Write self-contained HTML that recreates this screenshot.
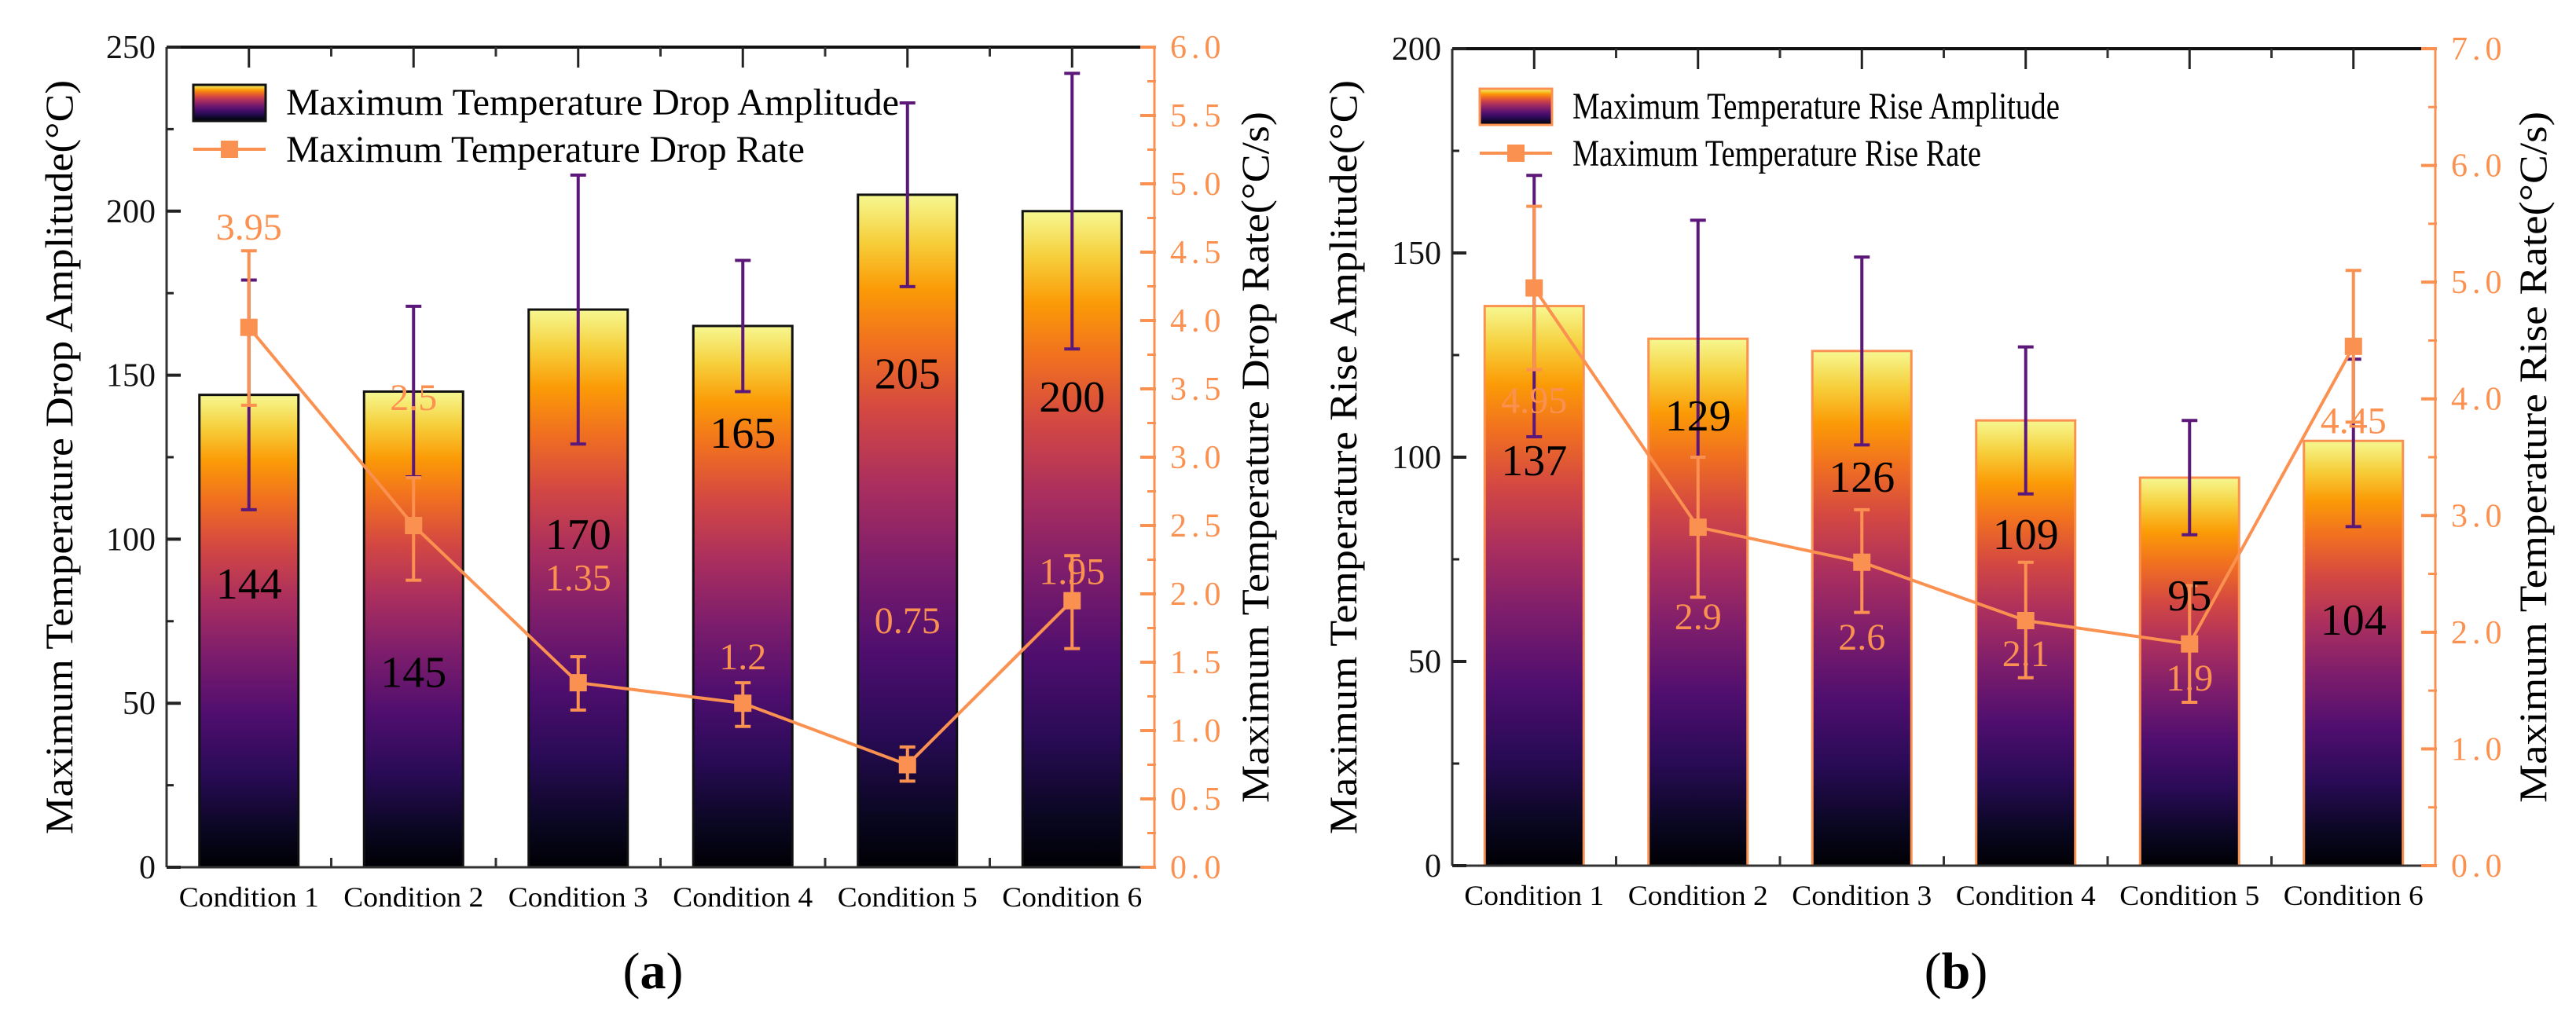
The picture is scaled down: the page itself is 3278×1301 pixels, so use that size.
<!DOCTYPE html>
<html><head><meta charset="utf-8">
<style>
html,body{margin:0;padding:0;background:#fff;}
svg{display:block;font-family:"Liberation Serif",serif;}
svg text{font-family:"Liberation Serif",serif;}
</style></head>
<body>
<svg id="fig" width="3278" height="1301" viewBox="0 0 3278 1301" xmlns="http://www.w3.org/2000/svg" font-family="Liberation Serif, serif">
<defs>
<linearGradient id="inferno" x1="0" y1="1" x2="0" y2="0">
<stop offset="0" stop-color="#000004"/>
<stop offset="0.08" stop-color="#0a0722"/>
<stop offset="0.2" stop-color="#2a0b57"/>
<stop offset="0.32" stop-color="#4e0e6e"/>
<stop offset="0.45" stop-color="#7d1d6c"/>
<stop offset="0.57" stop-color="#ab2f5e"/>
<stop offset="0.68" stop-color="#d44842"/>
<stop offset="0.78" stop-color="#f1711f"/>
<stop offset="0.86" stop-color="#fb9b06"/>
<stop offset="0.93" stop-color="#f6cf3b"/>
<stop offset="1" stop-color="#f6f891"/>
</linearGradient>
</defs>
</svg>
<script>
// ---- Chart (a) data ----
const categories = ["Condition 1","Condition 2","Condition 3","Condition 4","Condition 5","Condition 6"];
const dropAmp = [144,145,170,165,205,200];
const dropAmpErrLow = [109,119,129,145,177,158];
const dropAmpErrHigh = [179,171,211,185,233,242];
const dropRate = [3.95,2.5,1.35,1.2,0.75,1.95];
const dropRateErrLow = [3.38,2.1,1.15,1.03,0.63,1.6];
const dropRateErrHigh = [4.51,2.85,1.54,1.35,0.88,2.28];
const dropAmpLabelAt = [85,58,100,131,149,142];
const dropRateLabelAt = [194,142,87,63,74,89];
const dropLeftTicks = [0,50,100,150,200,250];
const dropRightTicks = ["0.0","0.5","1.0","1.5","2.0","2.5","3.0","3.5","4.0","4.5","5.0","5.5","6.0"];
// ---- Chart (b) data ----
const riseAmp = [137,129,126,109,95,104];
const riseAmpErrLow = [105,100,103,91,81,83];
const riseAmpErrHigh = [169,158,149,127,109,124];
const riseRate = [4.95,2.9,2.6,2.1,1.9,4.45];
const riseRateErrLow = [4.25,2.3,2.17,1.61,1.4,3.8];
const riseRateErrHigh = [5.65,3.5,3.05,2.6,2.4,5.1];
const riseAmpLabelAt = [98,109,94,80,65,59];
const riseRateLabelAt = [113,60,55,51,45,108];
const riseLeftTicks = [0,50,100,150,200];
const riseRightTicks = ["0.0","1.0","2.0","3.0","4.0","5.0","6.0","7.0"];

const NS = "http://www.w3.org/2000/svg";
const svg = document.getElementById("fig");
const ORANGE = "#fb9150", PURPLE = "#5c1878";
const FONT = "Liberation Serif, serif";
function mk(tag, attrs, parent){ const e=document.createElementNS(NS,tag); for(const k in attrs) e.setAttribute(k,attrs[k]); if(tag==="text") e.setAttribute("font-family",FONT); (parent||svg).appendChild(e); return e; }

function chart(c){
  const g = mk("g",{});
  
  
  const L=c.left,R=c.right,T=c.top,B=c.bottom,n=categories.length,step=(R-L)/n;
  const xc=i=>L+step*(i+0.5);
  const yA=v=>B-(v/c.ampMax)*(B-T);
  const yR=v=>B-(v/c.rateMax)*(B-T);
  c.amp.forEach((v,i)=>{
    const r=mk("rect",{x:xc(i)-63,y:yA(v),width:126,height:B-yA(v),fill:"url(#inferno)",stroke:c.barStroke,"stroke-width":3},g);
    
    
  });
  c.amp.forEach((v,i)=>{
    const e=mk("g",{stroke:PURPLE,"stroke-width":4},g);
    
    
    mk("line",{x1:xc(i),x2:xc(i),y1:yA(c.ampLo[i]),y2:yA(c.ampHi[i])},e);
    mk("line",{x1:xc(i)-10,x2:xc(i)+10,y1:yA(c.ampLo[i]),y2:yA(c.ampLo[i])},e);
    mk("line",{x1:xc(i)-10,x2:xc(i)+10,y1:yA(c.ampHi[i]),y2:yA(c.ampHi[i])},e);
  });
  const pts=c.rate.map((v,i)=>xc(i)+","+yR(v)).join(" ");
  const pl=mk("polyline",{points:pts,fill:"none",stroke:ORANGE,"stroke-width":4},g);
  
  
  c.rate.forEach((v,i)=>{
    const e=mk("g",{stroke:ORANGE,"stroke-width":4},g);
    
    
    mk("line",{x1:xc(i),x2:xc(i),y1:yR(c.rateLo[i]),y2:yR(c.rateHi[i])},e);
    mk("line",{x1:xc(i)-10,x2:xc(i)+10,y1:yR(c.rateLo[i]),y2:yR(c.rateLo[i])},e);
    mk("line",{x1:xc(i)-10,x2:xc(i)+10,y1:yR(c.rateHi[i]),y2:yR(c.rateHi[i])},e);
    const m=mk("rect",{x:xc(i)-11,y:yR(v)-11,width:22,height:22,fill:ORANGE},g);
    
    
  });
  c.amp.forEach((v,i)=>{
    const t=mk("text",{x:xc(i),y:yA(c.ampLab[i]),"font-size":56,"text-anchor":"middle","dominant-baseline":"middle",fill:"#000"},g);
    t.textContent=v;
    
    
  });
  c.rate.forEach((v,i)=>{
    const t=mk("text",{x:xc(i),y:yA(c.rateLab[i]),"font-size":48,"text-anchor":"middle","dominant-baseline":"middle",fill:ORANGE},g);
    t.textContent=v;
    
    
  });
  mk("line",{x1:L,x2:R,y1:T,y2:T,stroke:"#111","stroke-width":4},g);
  mk("line",{x1:L,x2:R,y1:B,y2:B,stroke:"#333","stroke-width":3},g);
  mk("line",{x1:L,x2:L,y1:T,y2:B,stroke:"#333","stroke-width":3},g);
  mk("line",{x1:R,x2:R,y1:T,y2:B,stroke:ORANGE,"stroke-width":3},g);
  for(let i=1;i<n;i++){ const x=L+step*i; mk("line",{x1:x,x2:x,y1:B,y2:B-12,stroke:"#333","stroke-width":3},g); mk("line",{x1:x,x2:x,y1:T,y2:T+12,stroke:"#333","stroke-width":3},g); }
  categories.forEach((cname,i)=>{
    mk("line",{x1:xc(i),x2:xc(i),y1:T,y2:T+26,stroke:"#222","stroke-width":3},g);
    const t=mk("text",{x:xc(i),y:B+50,"font-size":36,"text-anchor":"middle",fill:"#000",textLength:178,lengthAdjust:"spacingAndGlyphs"},g);
    t.textContent=cname;
    
    
  });
  const lt=c.leftTicks, lstep=lt[1]-lt[0];
  lt.forEach((v,i)=>{
    mk("line",{x1:L,x2:L+18,y1:yA(v),y2:yA(v),stroke:"#222","stroke-width":4},g);
    if(i<lt.length-1) mk("line",{x1:L,x2:L+9,y1:yA(v+lstep/2),y2:yA(v+lstep/2),stroke:"#222","stroke-width":3},g);
    const t=mk("text",{x:L-14,y:yA(v)+14,"font-size":42,"text-anchor":"end",fill:"#111"},g);
    t.textContent=v;
    
    
  });
  const rt=c.rightTicks, rstep=parseFloat(rt[1])-parseFloat(rt[0]);
  rt.forEach((s,i)=>{
    const v=parseFloat(s);
    mk("line",{x1:R-18,x2:R+2,y1:yR(v),y2:yR(v),stroke:ORANGE,"stroke-width":4},g);
    if(i<rt.length-1) mk("line",{x1:R-9,x2:R+2,y1:yR(v+rstep/2),y2:yR(v+rstep/2),stroke:ORANGE,"stroke-width":3},g);
    const t=mk("text",{x:R+20,y:yR(v)+14,"font-size":42,fill:ORANGE,"letter-spacing":"6"},g);
    t.textContent=s;
    
    
  });
  const cy=(T+B)/2;
  let t=mk("text",{x:0,y:0,"font-size":50,"text-anchor":"middle",transform:`translate(${c.leftTitleX},${cy}) rotate(-90)`,fill:"#000",textLength:c.leftTitleLen,lengthAdjust:"spacingAndGlyphs"},g);
  t.textContent=c.leftTitle;
  
  
  t=mk("text",{x:0,y:0,"font-size":50,"text-anchor":"middle",transform:`translate(${c.rightTitleX},${cy}) rotate(-90)`,fill:"#000",textLength:c.rightTitleLen,lengthAdjust:"spacingAndGlyphs"},g);
  t.textContent=c.rightTitle;
  
  
  const lg=mk("g",{},g);
  
  
  mk("rect",{x:c.legX,y:c.legY,width:92,height:46,fill:"url(#inferno)",stroke:c.legStroke,"stroke-width":3},lg);
  mk("line",{x1:c.legX,x2:c.legX+92,y1:c.legY+82,y2:c.legY+82,stroke:ORANGE,"stroke-width":4},lg);
  mk("rect",{x:c.legX+35,y:c.legY+71,width:22,height:22,fill:ORANGE},lg);
  t=mk("text",{x:c.legX+118,y:c.legY+38,"font-size":48,fill:"#000",textLength:c.legLen1,lengthAdjust:"spacingAndGlyphs"},lg);
  t.textContent=c.leg1;
  
  
  t=mk("text",{x:c.legX+118,y:c.legY+98,"font-size":48,fill:"#000",textLength:c.legLen2,lengthAdjust:"spacingAndGlyphs"},lg);
  t.textContent=c.leg2;
  
  
  t=mk("text",{x:c.panelX,y:1258,"font-size":66,"text-anchor":"middle",fill:"#000"},g);
  t.innerHTML=c.panel;
  
  
}

chart({name:"chart-a",left:212,right:1469,top:60,bottom:1104,ampMax:250,rateMax:6,
  amp:dropAmp,ampLo:dropAmpErrLow,ampHi:dropAmpErrHigh,rate:dropRate,rateLo:dropRateErrLow,rateHi:dropRateErrHigh,
  ampLab:dropAmpLabelAt,rateLab:dropRateLabelAt,leftTicks:dropLeftTicks,rightTicks:dropRightTicks,barStroke:"#111",legStroke:"#111",
  leftTitle:"Maximum Temperature Drop Amplitude(°C)",leftTitleX:92,leftTitleLen:960,
  rightTitle:"Maximum Temperature Drop Rate(°C/s)",rightTitleX:1614,rightTitleLen:880,
  legX:246,legY:108,leg1:"Maximum Temperature Drop Amplitude",leg2:"Maximum Temperature Drop Rate",legLen1:780,legLen2:660,
  panel:'(<tspan font-weight="bold">a</tspan>)',panelX:831});
chart({name:"chart-b",left:1848,right:3099,top:62,bottom:1102,ampMax:200,rateMax:7,
  amp:riseAmp,ampLo:riseAmpErrLow,ampHi:riseAmpErrHigh,rate:riseRate,rateLo:riseRateErrLow,rateHi:riseRateErrHigh,
  ampLab:riseAmpLabelAt,rateLab:riseRateLabelAt,leftTicks:riseLeftTicks,rightTicks:riseRightTicks,barStroke:ORANGE,legStroke:ORANGE,
  leftTitle:"Maximum Temperature Rise Amplitude(°C)",leftTitleX:1726,leftTitleLen:960,
  rightTitle:"Maximum Temperature Rise Rate(°C/s)",rightTitleX:3240,rightTitleLen:880,
  legX:1883,legY:113,leg1:"Maximum Temperature Rise Amplitude",leg2:"Maximum Temperature Rise Rate",legLen1:620,legLen2:520,
  panel:'(<tspan font-weight="bold">b</tspan>)',panelX:2489});
</script>
</body></html>
